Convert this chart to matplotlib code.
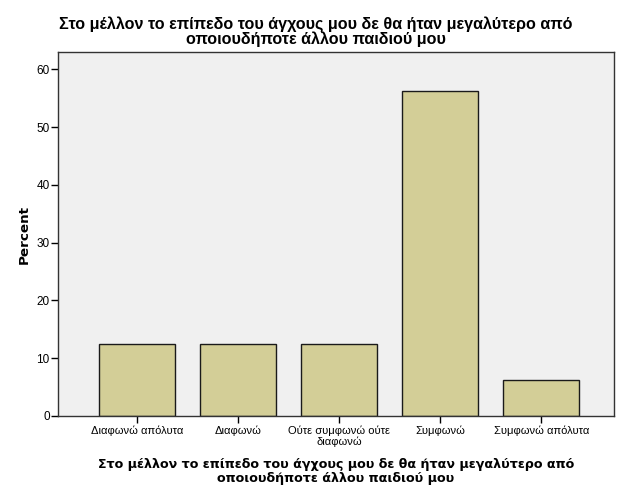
import matplotlib.pyplot as plt
import numpy as np

plt.rcParams["font.family"] = ["Liberation Sans", "DejaVu Sans"]

categories = ["Διαφωνώ απόλυτα", "Διαφωνώ", "Ούτε συμφωνώ ούτε\nδιαφωνώ",
              "Συμφωνώ", "Συμφωνώ απόλυτα"]
percent = [12.5, 12.5, 12.5, 56.25, 6.25]
yticks = [0, 10, 20, 30, 40, 50, 60]
title = "Στο μέλλον το επίπεδο του άγχους μου δε θα ήταν μεγαλύτερο από\nοποιουδήποτε άλλου παιδιού μου"

fig = plt.figure(figsize=(6.26, 5.01), dpi=100)
ax = fig.add_axes([0.0927, 0.1697, 0.8882, 0.7263])
ax.set_facecolor("#F0F0F0")

x = np.arange(len(categories))
ax.bar(x, percent, width=0.75, color="#D3CE97", edgecolor="#1a1a1a", linewidth=1.0)

ax.set_xlim(-0.78, 4.72)
ax.set_ylim(0, 63)
ax.set_xticks(x)
ax.set_xticklabels(categories, fontsize=8, linespacing=1.0)
ax.set_yticks(yticks)
ax.tick_params(axis="y", labelsize=8.5, length=5, width=1, pad=1)
ax.tick_params(axis="x", length=5, width=1, pad=2)
for s in ax.spines.values():
    s.set_color("#333333")
    s.set_linewidth(1)

ax.set_ylabel("Percent", fontsize=9.7, fontweight="bold", labelpad=4,
              family=["DejaVu Sans"])
ax.set_xlabel(title, fontsize=9.05, fontweight="bold", linespacing=1.1,
              labelpad=8, family=["DejaVu Sans"])
fig.text(0.505, 0.937, title, ha="center", va="center", fontsize=11.6,
         fontweight="bold", linespacing=1.02)

fig.savefig("out.png", dpi=100)
